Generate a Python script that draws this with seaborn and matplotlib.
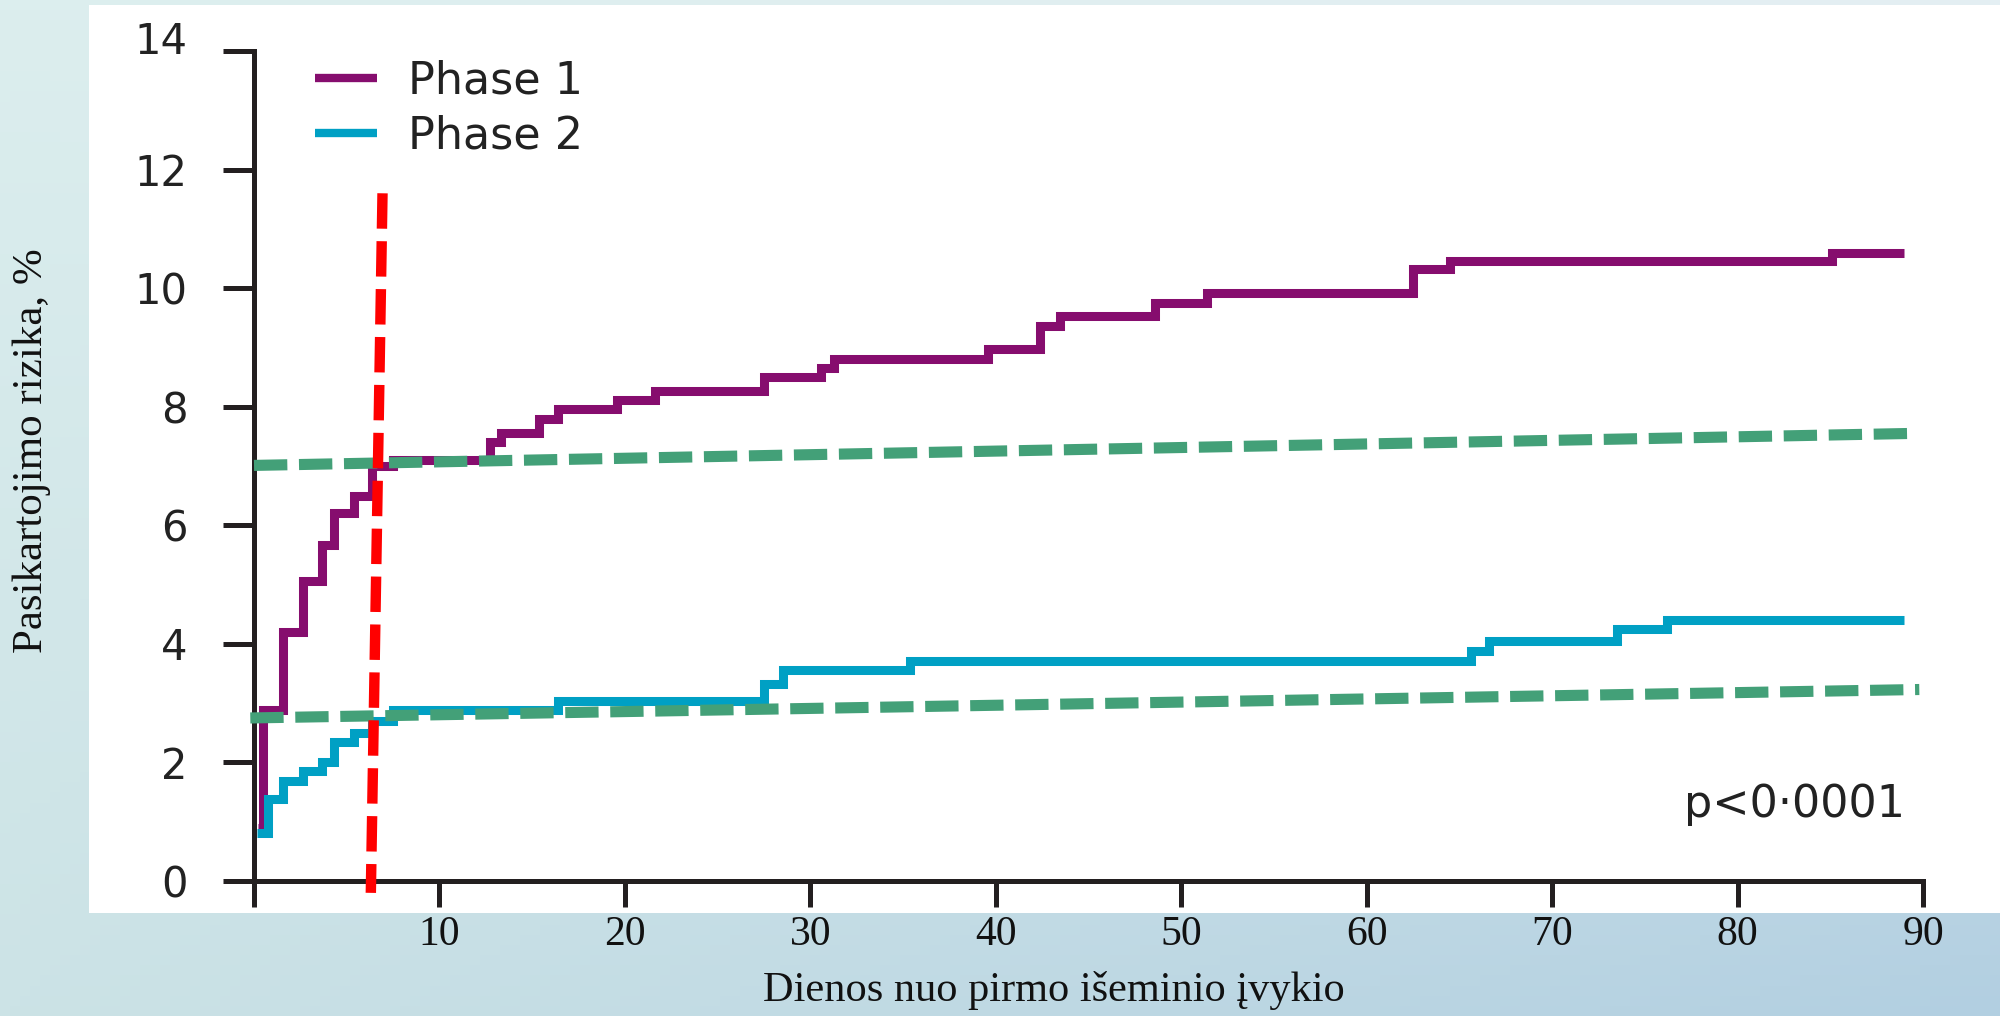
import numpy as np
import pandas as pd
import matplotlib
matplotlib.use("Agg")
import matplotlib.pyplot as plt
import matplotlib.transforms as mtransforms
import seaborn as sns
from matplotlib.patches import Rectangle
from matplotlib.lines import Line2D

# ---------------- data ----------------
phase1_days = [0.2, 0.5, 1.58, 2.62, 3.65, 4.31, 5.39, 6.34, 7.48, 12.7, 13.3, 15.35, 16.4,
               19.55, 21.6, 27.5, 30.6, 31.3, 39.6, 42.4, 43.45, 48.6, 51.4, 62.5, 64.5, 85.1, 89.0]
phase1_risk = [0.9, 2.88, 4.2, 5.06, 5.66, 6.2, 6.5, 7.0, 7.1, 7.41, 7.56, 7.8, 7.96,
               8.11, 8.26, 8.5, 8.65, 8.8, 8.97, 9.36, 9.53, 9.75, 9.91, 10.32, 10.45, 10.6, 10.6]
phase2_days = [0.15, 0.77, 1.58, 2.62, 3.65, 4.31, 5.39, 6.34, 7.48, 16.4, 27.5, 28.5, 35.4,
               65.6, 66.6, 73.5, 76.2, 89.0]
phase2_risk = [0.81, 1.38, 1.68, 1.86, 2.0, 2.34, 2.5, 2.7, 2.88, 3.03, 3.32, 3.56, 3.71,
               3.88, 4.05, 4.25, 4.4, 4.4]

trend_upper_days = [0.0, 89.5]
trend_upper_risk = [7.01, 7.55]
trend_lower_days = [-0.2, 89.8]
trend_lower_risk = [2.75, 3.23]
cutoff_days = [6.93, 6.3]
cutoff_risk = [11.6, -0.2]

series_names = ["Phase 1", "Phase 2"]
x_ticks = [0, 10, 20, 30, 40, 50, 60, 70, 80, 90]
x_ticklabels = ["", "10", "20", "30", "40", "50", "60", "70", "80", "90"]
y_ticks = [0, 2, 4, 6, 8, 10, 12, 14]
x_title = "Dienos nuo pirmo išeminio įvykio"
y_title = "Pasikartojimo rizika, %"
p_text = "p<0·0001"

colors = {"Phase 1": "#860D6E", "Phase 2": "#00A0C4"}
green = "#43A078"
red = "#FF0000"
ink = "#231F20"

df = pd.concat([
    pd.DataFrame({"day": phase1_days, "risk": phase1_risk, "phase": series_names[0]}),
    pd.DataFrame({"day": phase2_days, "risk": phase2_risk, "phase": series_names[1]}),
], ignore_index=True)

# ---------------- figure ----------------
sns.set_theme(style="white")
plt.rcParams["font.family"] = ["DejaVu Sans"]

W, H = 2000, 1016
fig = plt.figure(figsize=(W / 100, H / 100), dpi=100)

# background gradient
bg = fig.add_axes([0, 0, 1, 1], zorder=-10)
tl = np.array([0xdc, 0xee, 0xee]) / 255
tr = np.array([0xe4, 0xef, 0xf3]) / 255
bl = np.array([0xcc, 0xe3, 0xe6]) / 255
br = np.array([0xb2, 0xcf, 0xe1]) / 255
u = np.linspace(0, 1, 200)[None, :, None]
v = np.linspace(0, 1, 100)[:, None, None]
img = (1 - v) * ((1 - u) * tl + u * tr) + v * ((1 - u) * bl + u * br)
bg.imshow(img, aspect="auto", extent=[0, 1, 0, 1], origin="upper")
bg.set_xlim(0, 1)
bg.set_ylim(0, 1)
bg.axis("off")
bg.add_patch(Rectangle((89 / W, 1 - 913 / H), 1 - 89 / W, (913 - 5) / H,
                       facecolor="white", edgecolor="none"))

ax = fig.add_axes([254 / W, 1 - 881 / H, (1923 - 254) / W, (881 - 51) / H])
ax.set_facecolor("none")

sns.lineplot(data=df, x="day", y="risk", hue="phase", palette=colors,
             estimator=None, drawstyle="steps-post", linewidth=6.5,
             legend=False, ax=ax, solid_joinstyle="miter", solid_capstyle="butt",
             zorder=3)

ax.plot(trend_upper_days, trend_upper_risk, color=green, linewidth=8,
        linestyle=(0, (3.0, 1.05)), dash_capstyle="butt", zorder=4, clip_on=False)
ax.plot(trend_lower_days, trend_lower_risk, color=green, linewidth=8,
        linestyle=(0, (3.0, 1.05)), dash_capstyle="butt", zorder=4, clip_on=False)
ax.plot(cutoff_days, cutoff_risk, color=red, linewidth=7.5,
        linestyle=(0, (3.4, 1.2)), dash_capstyle="butt", zorder=5, clip_on=False)

ax.set_xlim(0, 90)
ax.set_ylim(0, 14)
for s in ["top", "right"]:
    ax.spines[s].set_visible(False)
for s in ["left", "bottom"]:
    ax.spines[s].set_color(ink)
    ax.spines[s].set_linewidth(3.6)
    ax.spines[s].set_capstyle("projecting")

ax.set_xticks(x_ticks)
ax.set_xticklabels(x_ticklabels)
ax.set_yticks(y_ticks)
ax.set_yticklabels([str(t) for t in y_ticks])
ax.tick_params(axis="x", bottom=True, direction="out", length=19, width=3.6, color=ink,
               pad=6, labelsize=30, labelcolor="#111111")
ax.tick_params(axis="y", left=True, direction="out", length=22, width=3.6, color=ink,
               pad=26, labelsize=30, labelcolor="#222222")
for lbl in ax.get_xticklabels():
    lbl.set_fontfamily(["Liberation Serif"])
for lbl in ax.get_yticklabels():
    lbl.set_fontfamily(["DejaVu Sans"])
# top label sits a bit higher in the original
top_lbl = ax.get_yticklabels()[-1]
top_lbl.set_transform(top_lbl.get_transform() +
                      mtransforms.ScaledTranslation(0, 10 / 72, fig.dpi_scale_trans))
ax.set_xlabel("")
ax.set_ylabel("")

fig.text(1054 / W, 1 - 990 / H, x_title, ha="center", va="center",
         fontsize=30.5, family=["Liberation Serif"], color="#111111")
fig.text(32 / W, 1 - 451 / H, y_title, ha="center", va="center", rotation=90,
         fontsize=31, family=["Liberation Serif"], color="#111111")
fig.text(1905 / W, 1 - 804 / H, p_text, ha="right", va="center",
         fontsize=32, family=["DejaVu Sans"], color="#222222")

handles = [Line2D([], [], color=colors[n], linewidth=6, solid_capstyle="butt")
           for n in series_names]
leg = ax.legend(handles, series_names, loc="upper left",
                bbox_to_anchor=(315 / W, 1 - 60 / H), bbox_transform=fig.transFigure,
                frameon=False, fontsize=32, handlelength=1.4, handletextpad=0.7,
                labelspacing=0.25, borderpad=0, borderaxespad=0)
for t in leg.get_texts():
    t.set_color("#222222")

fig.savefig("out.png", dpi=100)
